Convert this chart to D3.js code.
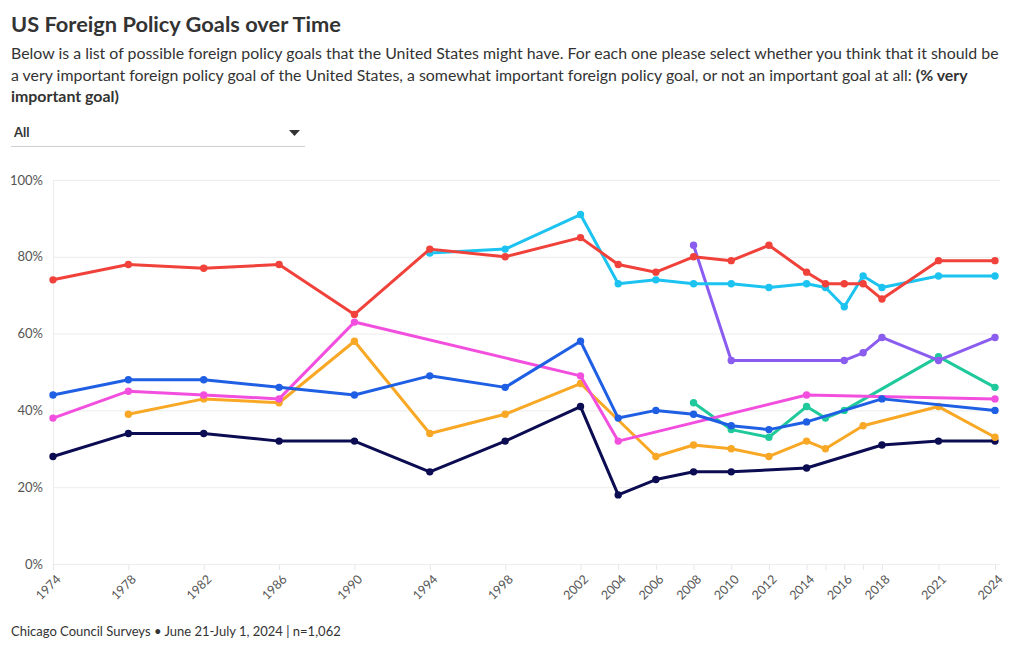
<!DOCTYPE html>
<html>
<head>
<meta charset="utf-8">
<script src="https://cdn.jsdelivr.net/npm/d3@7"></script>
<style>
  html, body { margin: 0; padding: 0; background: #fff; }
  svg { display: block; font-family: Lato, "Open Sans", sans-serif; }
</style>
</head>
<body>
<svg id="chart" width="1020" height="650"></svg>
<script>
// ---- Data ----
const years = [1974,1978,1982,1986,1990,1994,1998,2002,2004,2006,2008,2010,2012,2014,2015,2016,2017,2018,2021,2024];
const labeledYears = [1974,1978,1982,1986,1990,1994,1998,2002,2004,2006,2008,2010,2012,2014,2016,2018,2021,2024];
const yTicks = [0,20,40,60,80,100];

const seriesNames = [
  "Combating world hunger",
  "Helping to bring a democratic form of government to other nations",
  "Promoting and defending human rights in other countries",
  "Protecting weaker nations against aggression",
  "Strengthening the United Nations",
  "Securing adequate supplies of energy",
  "Preventing the spread of nuclear weapons",
  "Protecting the jobs of American workers"
];
const seriesColors = ["#1fc99b","#0c0c52","#f8a825","#f24fdf","#1f5fe3","#8b5cf0","#1cc3f0","#f0413a"];

const tealValues    = [null,null,null,null,null,null,null,null,null,null,42,35,33,41,38,40,null,null,54,46];
const navyValues    = [28,34,34,32,32,24,32,41,18,22,24,24,null,25,null,null,null,31,32,32];
const orangeValues  = [null,39,43,42,58,34,39,47,null,28,31,30,28,32,30,null,36,null,41,33];
const magentaValues = [38,45,44,43,63,null,null,49,32,null,null,null,null,44,null,null,null,null,null,43];
const blueValues    = [44,48,48,46,44,49,46,58,38,40,39,36,35,37,null,null,null,43,null,40];
const purpleValues  = [null,null,null,null,null,null,null,null,null,null,83,53,null,null,null,53,55,59,53,59];
const cyanValues    = [null,null,null,null,null,81,82,91,73,74,73,73,72,73,72,67,75,72,75,75];
const redValues     = [74,78,77,78,65,82,80,85,78,76,80,79,83,76,73,73,73,69,79,79];

const allValues = [tealValues,navyValues,orangeValues,magentaValues,blueValues,purpleValues,cyanValues,redValues];

const titleText = "US Foreign Policy Goals over Time";
const subtitleLines = [
  [["Below is a list of possible foreign policy goals that the United States might have. For each one please select whether you think that it should be", false]],
  [["a very important foreign policy goal of the United States, a somewhat important foreign policy goal, or not an important goal at all: ", false], ["(% very", true]],
  [["important goal)", true]]
];
const dropdownLabel = "All";
const footerText = "Chicago Council Surveys \u2022 June 21-July 1, 2024 | n=1,062";

// ---- Layout ----
const svg = d3.select("#chart");
const margin = {left: 53, right: 25, top: 180, bottom: 86};
const W = 1020, H = 650;

// Header
svg.append("text").attr("x", 11).attr("y", 32)
  .attr("font-size", 21.8).attr("font-weight", 700).attr("fill", "#333")
  .text(titleText);

const sub = svg.append("g");
subtitleLines.forEach((line, i) => {
  const t = sub.append("text").attr("x", 11).attr("y", 59 + i * 21.5)
    .attr("font-size", 15.9).attr("fill", "#333");
  line.forEach(([txt, bold]) => {
    t.append("tspan").attr("font-weight", bold ? 700 : 400).text(txt);
  });
});

// Dropdown
const dd = svg.append("g");
dd.append("text").attr("x", 14).attr("y", 137).attr("font-size", 13).attr("font-weight", 700).attr("fill", "#333").text(dropdownLabel);
dd.append("path").attr("d", "M289,130 L300,130 L294.5,136 Z").attr("fill", "#333");
dd.append("line").attr("x1", 11).attr("x2", 305).attr("y1", 146.5).attr("y2", 146.5).attr("stroke", "#cfcfcf").attr("stroke-width", 1);

// Scales
const x = d3.scaleLinear().domain([1974, 2024]).range([margin.left, W - margin.right]);
const y = d3.scaleLinear().domain([0, 100]).range([H - margin.bottom, margin.top]);

// Gridlines
const grid = svg.append("g");
grid.selectAll("line.h").data(yTicks).join("line")
  .attr("x1", margin.left).attr("x2", 1000)
  .attr("y1", d => y(d) + 0.5).attr("y2", d => y(d) + 0.5)
  .attr("stroke", "#ececec").attr("stroke-width", 1);
grid.append("line").attr("x1", margin.left + 0.5).attr("x2", margin.left + 0.5)
  .attr("y1", y(100)).attr("y2", y(0) + 6).attr("stroke", "#ececec");

// Y axis
const yAxis = d3.axisLeft(y).tickValues(yTicks).tickFormat(d => d + "%").tickSize(0).tickPadding(10);
const yg = svg.append("g").attr("transform", `translate(${margin.left},0)`).call(yAxis);
yg.select(".domain").remove();
yg.selectAll("text").attr("font-size", 13).attr("fill", "#555").attr("font-family", "Lato, sans-serif");

// X axis
const xAxis = d3.axisBottom(x).tickValues(years).tickSize(6).tickPadding(3)
  .tickFormat(d => labeledYears.includes(d) ? String(d) : "");
const xg = svg.append("g").attr("transform", `translate(0,${y(0)})`).call(xAxis);
xg.select(".domain").remove();
xg.selectAll(".tick line").attr("stroke", "#e6e6e6");
xg.selectAll("text")
  .attr("font-size", 12.5).attr("fill", "#555").attr("font-family", "Lato, sans-serif")
  .attr("text-anchor", "end")
  .attr("x", 0).attr("y", 0).attr("dx", 0).attr("dy", "0.35em")
  .attr("transform", "translate(5,13) rotate(-45)");

// Lines
const line = d3.line().x(d => x(d.year)).y(d => y(d.value));
const plot = svg.append("g");
allValues.forEach((vals, si) => {
  const pts = years.map((yr, i) => ({year: yr, value: vals[i]})).filter(d => d.value !== null);
  const g = plot.append("g").attr("class", "series").attr("data-name", seriesNames[si]);
  g.append("path").datum(pts).attr("d", line)
    .attr("fill", "none").attr("stroke", seriesColors[si]).attr("stroke-width", 3)
    .attr("stroke-linejoin", "round").attr("stroke-linecap", "round");
  g.selectAll("circle").data(pts).join("circle")
    .attr("cx", d => x(d.year)).attr("cy", d => y(d.value)).attr("r", 3.7)
    .attr("fill", seriesColors[si]);
});

// Footer
svg.append("text").attr("x", 11).attr("y", 636).attr("font-size", 13).attr("fill", "#333").text(footerText);
</script>
</body>
</html>
